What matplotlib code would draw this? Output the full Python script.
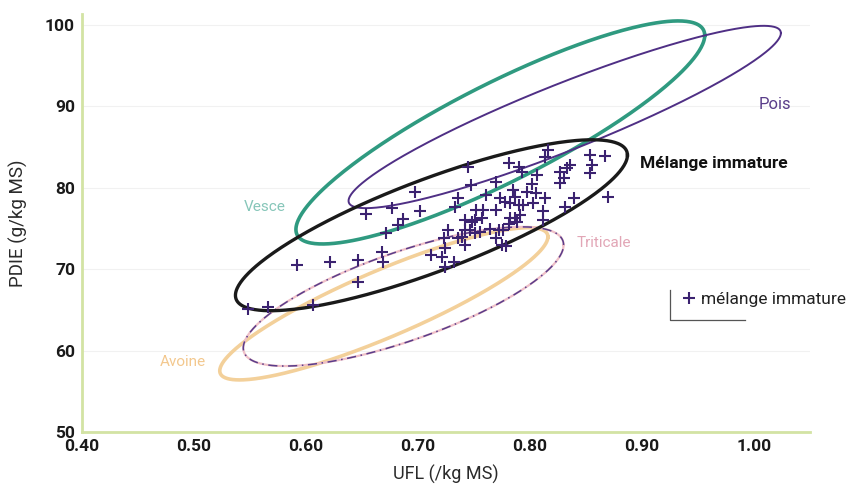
import numpy as np
import matplotlib
matplotlib.use('Agg')
import matplotlib.pyplot as plt

plt.rcParams['font.family'] = ['Roboto', 'DejaVu Sans']

# ellipses: centre, half extent on each axis, correlation
feeds = ['Pois', 'Vesce', 'Mélange immature', 'Triticale', 'Avoine']
ufl_mean = [0.831, 0.7735, 0.712, 0.687, 0.6695]
ufl_half = [0.193, 0.1825, 0.175, 0.143, 0.1465]
pdie_mean = [88.7, 86.8, 75.4, 66.65, 65.75]
pdie_half = [11.2, 13.7, 10.5, 8.55, 9.35]
corr = [0.92, 0.87, 0.82, 0.74, 0.88]

# mélange immature samples
ufl = [0.745, 0.781, 0.790, 0.793, 0.816, 0.813, 0.867, 0.854, 0.855, 0.854,
       0.870, 0.839, 0.831, 0.827, 0.830, 0.827, 0.833, 0.836, 0.806, 0.802,
       0.797, 0.805, 0.813, 0.803, 0.785, 0.787, 0.778, 0.773, 0.770, 0.761,
       0.747, 0.736, 0.733, 0.697, 0.702, 0.687, 0.770, 0.782, 0.790, 0.794,
       0.791, 0.787, 0.782, 0.788, 0.781, 0.776, 0.772, 0.764, 0.757, 0.751,
       0.748, 0.755, 0.751, 0.742, 0.739, 0.727, 0.723, 0.736, 0.742, 0.724,
       0.721, 0.712, 0.724, 0.732, 0.770, 0.775, 0.779, 0.758, 0.752, 0.742,
       0.746, 0.812, 0.812, 0.592, 0.548, 0.566, 0.606, 0.646, 0.669, 0.621,
       0.654, 0.677, 0.682, 0.671, 0.646, 0.668]
pdie = [82.6, 83.0, 82.6, 82.0, 84.6, 83.8, 83.9, 84.0, 82.8, 81.8,
        78.9, 78.7, 77.7, 82.0, 81.2, 80.6, 82.4, 82.8, 81.6, 80.5,
        79.5, 79.3, 78.7, 78.1, 79.7, 78.9, 78.3, 78.7, 80.7, 79.1,
        80.3, 78.7, 77.7, 79.5, 77.1, 76.2, 77.3, 78.1, 77.9, 77.9,
        76.7, 76.3, 76.3, 75.8, 75.6, 74.8, 74.8, 75.0, 76.3, 76.0,
        75.8, 74.6, 74.4, 74.8, 74.0, 74.8, 73.8, 73.8, 73.0, 72.6,
        71.5, 71.7, 70.3, 70.9, 73.8, 73.0, 72.8, 77.3, 77.3, 76.0,
        74.8, 77.1, 76.0, 70.5, 65.1, 65.4, 65.6, 68.4, 70.9, 70.9,
        76.8, 77.5, 75.4, 74.4, 71.1, 72.1]

xticks = [0.40, 0.50, 0.60, 0.70, 0.80, 0.90, 1.00]
yticks = [50, 60, 70, 80, 90, 100]

colors = {'Pois': '#4f2f85', 'Vesce': '#2f9a80', 'Mélange immature': '#1a1a1a',
          'Triticale': '#5a3d8a', 'Avoine': '#f3d09a'}
widths = {'Pois': 1.4, 'Vesce': 2.6, 'Mélange immature': 2.4,
          'Triticale': 1.1, 'Avoine': 2.6}
styles = {'Pois': '-', 'Vesce': '-', 'Mélange immature': '-',
          'Triticale': (0, (6, 3, 1, 3)), 'Avoine': '-'}

fig = plt.figure(figsize=(8.5, 4.91), dpi=100)
ax = fig.add_axes([82 / 850, 1 - 432 / 491, (810 - 82) / 850, (432 - 14) / 491])

t = np.linspace(0, 2 * np.pi, 400)
order = ['Avoine', 'Triticale', 'Vesce', 'Pois', 'Mélange immature']
for name in order:
    i = feeds.index(name)
    x = ufl_mean[i] + ufl_half[i] * np.cos(t)
    y = pdie_mean[i] + pdie_half[i] * (corr[i] * np.cos(t) + np.sqrt(1 - corr[i] ** 2) * np.sin(t))
    if name == 'Triticale':
        # pale pink trace under the dashes
        ax.plot(x, y, color='#efc0c8', lw=1.6, zorder=2)
    ax.plot(x, y, color=colors[name], lw=widths[name], ls=styles[name], zorder=2)

ax.plot(ufl, pdie, ls='none', marker='+', ms=8, mew=1.5, color='#3b2270', zorder=3,
        label='mélange immature')

# curve labels
ax.text(1.019, 90.2, 'Pois', color='#5a3d8a', fontsize=12, ha='center', va='center')
ax.text(0.898, 83.0, 'Mélange immature', color='#111111', fontsize=12.5, fontweight='bold',
        ha='left', va='center')
ax.text(0.563, 77.6, 'Vesce', color='#86c6b9', fontsize=11, ha='center', va='center')
ax.text(0.866, 73.2, 'Triticale', color='#e2a6b6', fontsize=11, ha='center', va='center')
ax.text(0.490, 58.6, 'Avoine', color='#f3c88e', fontsize=11, ha='center', va='center')

# legend with half frame
leg = ax.legend(loc='upper left', bbox_to_anchor=(0.812, 0.352), frameon=False, fontsize=12.5,
                handletextpad=0.2, handlelength=1.0, borderaxespad=0)
for txt in leg.get_texts():
    txt.set_color('#222222')
ax.plot([(670 - 82) / 728, (670 - 82) / 728, (745 - 82) / 728],
        [(432 - 290) / 418, (432 - 320) / 418, (432 - 320) / 418],
        transform=ax.transAxes, color='#555555', lw=0.9, clip_on=False)

ax.set_xlim(0.40, 1.05)
ax.set_ylim(50, 50 + (432 - 14) / 8.14)
ax.set_xticks(xticks)
ax.set_xticklabels(['%.2f' % v for v in xticks], fontsize=12.5, fontweight='bold')
ax.set_yticks(yticks)
ax.set_yticklabels([str(v) for v in yticks], fontsize=12.5, fontweight='bold')
ax.tick_params(length=0, pad=5, colors='#1a1a1a')
ax.grid(axis='y', color='#f1f1f1', lw=0.8)
ax.set_axisbelow(True)
for s in ['top', 'right']:
    ax.spines[s].set_visible(False)
for s in ['left', 'bottom']:
    ax.spines[s].set_color('#d3e3a4')
    ax.spines[s].set_linewidth(2)

ax.set_xlabel('UFL (/kg MS)', fontsize=13, color='#2a2a2a', labelpad=8)
ax.set_ylabel('PDIE (g/kg MS)', fontsize=13.5, color='#2a2a2a', labelpad=12)

fig.savefig('out.png', dpi=100)
